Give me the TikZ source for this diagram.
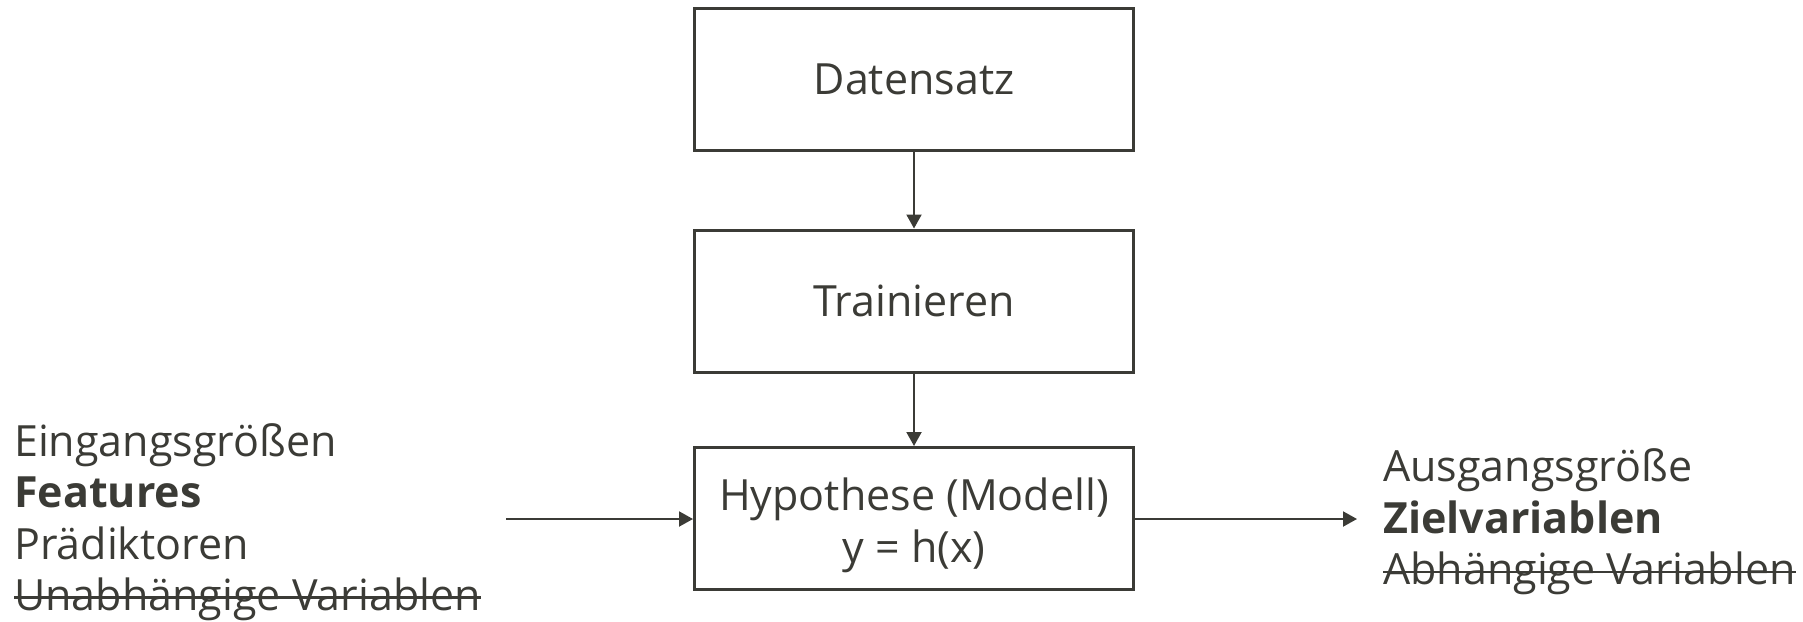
\documentclass[tikz,border=0pt]{standalone}
\usepackage{fontspec}
\setmainfont{Open Sans}
\definecolor{InkGray}{RGB}{59, 59, 54}
\usetikzlibrary{arrows.meta}
\newsavebox{\strikebox}
\newcommand{\strikeword}[1]{%
  \sbox{\strikebox}{#1}%
  \rlap{\rule[0.27em]{\wd\strikebox}{2.5pt}}\usebox{\strikebox}%
}

\begin{document}
\begin{tikzpicture}[x=1pt, y=-1pt,
    stepbox/.style={draw=InkGray, line width=3pt, minimum width=439pt, minimum height=142pt, inner sep=0pt, align=center},
    flow/.style={-{Triangle[length=14pt, width=15pt]}, line width=2pt, InkGray},
    sidetext/.style={inner sep=0pt, align=left}]
    \useasboundingbox (0,0) rectangle (1803,621);
    \fontsize{43}{51.5}\selectfont
    \color{InkGray}

    % Datensatz
    \node[stepbox] (data) at (914,79.5) {Datensatz};

    % Trainieren
    \node[stepbox] (train) at (914,301) {Trainieren};

    % Hypothese
    \node[stepbox] (model) at (914,518.5) {\rule{0pt}{46pt}Hypothese (Modell)\\y = h(x)};

    % Eingang
    \node[sidetext, anchor=west] (inputs) at (14,522) {
      Eingangsgrößen\\
      \textbf{Features}\\
      Prädiktoren\\
      \strikeword{Unabhängige Variablen}
    };

    % Ausgang
    \node[sidetext, anchor=west] (outputs) at (1383,522) {
      Ausgangsgröße\\
      \textbf{Zielvariablen}\\
      \strikeword{Abhängige Variablen}
    };

    \coordinate (instart) at (506,519);
    \coordinate (outend) at (1357,519);

    \draw[flow] (data) -- (train);
    \draw[flow] (train) -- (model);
    \draw[flow] (instart) -- (model.west |- instart);
    \draw[flow] (model.east |- outend) -- (outend);
  \end{tikzpicture}
\end{document}
